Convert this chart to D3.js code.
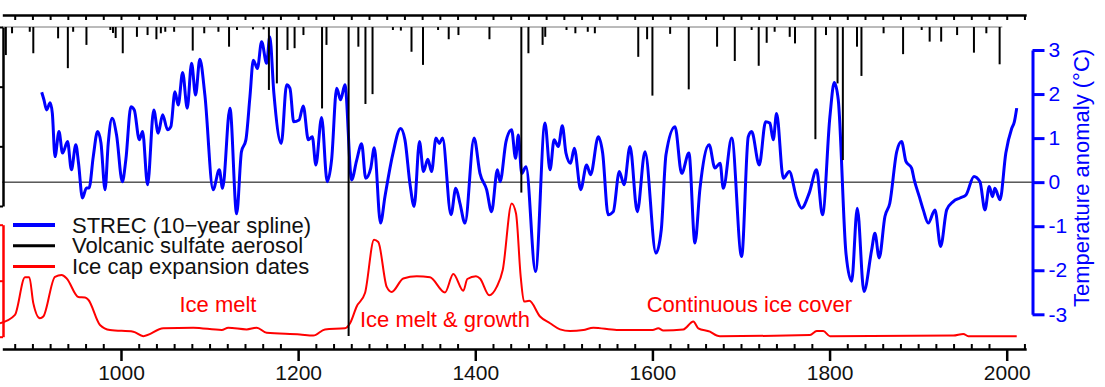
<!DOCTYPE html>
<html>
<head>
<meta charset="utf-8">
<script src="https://cdn.jsdelivr.net/npm/d3@7"></script>
<style>
  body { margin: 0; background: #fff; }
  svg { display: block; font-family: "Liberation Sans", Arial, sans-serif; }
</style>
</head>
<body>
<svg></svg>
<script>
// STREC temperature reconstruction, 10-year spline (deg C anomaly)
var strecYears = [910.5, 913, 916, 920, 922.5, 925.5, 930, 934, 939.7, 944, 949, 952, 956.5, 961, 964, 968.7, 973.6, 977.4, 982, 985.6,
  990, 995, 1001.5, 1005.5, 1011.2, 1015, 1020.7, 1024.4, 1030, 1037, 1042, 1047, 1052.6, 1056.3, 1060.9, 1064.6, 1069.6, 1074.8, 1079.7, 1084.2,
  1089, 1094.7, 1104, 1111, 1114.7, 1123, 1130.6, 1136, 1141, 1145.6, 1149.4, 1154, 1158.8, 1164.4, 1168, 1172.6, 1181, 1187, 1190.8, 1195,
  1201, 1205.8, 1211.5, 1216, 1220, 1226.5, 1232.8, 1237.8, 1243.5, 1248, 1252.8, 1260.4, 1266, 1271.7, 1276.3, 1282, 1286, 1293, 1298, 1306.7,
  1315.7, 1320.6, 1326.4, 1331, 1337, 1341.5, 1346.4, 1350.7, 1355.6, 1359.4, 1363, 1372.6, 1378, 1382.7, 1388.4, 1398.6, 1405.3, 1412.8, 1418.4, 1425,
  1428, 1434.7, 1441, 1445.5, 1448.6, 1452.4, 1457.3, 1468, 1478.7, 1484.4, 1489, 1493.7, 1498.3, 1502.4, 1507.6, 1511.8, 1519, 1525.7, 1530.2, 1538.9,
  1543.8, 1550, 1555.8, 1562.6, 1568, 1574.7, 1582.9, 1591.6, 1604, 1610, 1615.3, 1625.5, 1633, 1641.2, 1648, 1653.7, 1664, 1670.6, 1676.4, 1680,
  1689.5, 1700.7, 1708.2, 1712, 1720.6, 1727.8, 1732.6, 1736.4, 1740.2, 1747.8, 1754.5, 1762.8, 1768.4, 1777, 1785.3, 1792, 1800.4, 1805.3, 1809.8, 1818.5,
  1824.9, 1831.3, 1838.8, 1847.5, 1851.2, 1856, 1862.5, 1868, 1875.8, 1881.3, 1886.2, 1892.6, 1895.6, 1901.3, 1905.8, 1911.4, 1919, 1925.4, 1932.2, 1939.6,
  1947.2, 1954, 1963, 1969.8, 1975.4, 1980.3, 1984, 1986.6, 1992.4, 1999, 2005.6, 2008.6, 2011.3];
var strecTemps = [2.04, 1.87, 1.64, 1.80, 1.56, 0.58, 1.15, 0.66, 0.92, 0.28, 0.85, 0.44, -0.36, -0.13, -0.13, 0.58, 1.15, 0.89, -0.17, 0.88,
  1.45, 1.07, 0.01, 0.51, 1.71, 1.64, 0.96, 1.15, -0.06, 1.64, 1.11, 1.53, 1.19, 1.26, 2.05, 1.75, 2.49, 1.68, 2.70, 1.98,
  2.79, 1.98, -0.17, 0.28, -0.14, 1.68, -0.72, 0.69, 0.96, 1.94, 2.77, 2.58, 3.19, 2.70, 3.30, 2.02, 0.88, 2.21, 2.13, 1.37,
  1.41, 1.73, 0.96, 1.03, 0.39, 1.47, 0.01, 0.51, 2.13, 1.87, 2.21, 0.05, 0.49, 0.87, 0.09, 0.32, 0.78, -0.93, -0.33, 0.62,
  1.22, 0.96, -0.06, -0.55, 0.92, 0.24, 0.52, 0.24, 1.00, 0.88, 1.00, -0.74, -0.14, -0.48, -0.93, 1.00, 0.20, -0.17, -0.67, 0.28,
  0.01, 0.92, 1.19, 0.54, 1.07, 0.20, 0.35, -2.03, 1.34, 0.28, 0.96, 0.81, 1.28, 0.66, 0.43, 0.77, -0.17, 0.39, 0.17, 1.03,
  0.66, -0.74, -0.67, 0.24, -0.06, 0.81, -0.67, 0.69, -1.61, -1.08, 0.62, 1.26, 0.20, 0.66, -1.38, -0.14, 0.85, 0.32, 0.43, -0.14,
  1.00, -1.69, 1.03, 1.15, 0.39, 1.37, 1.34, 0.96, 1.56, 0.09, 0.24, -0.36, -0.59, -0.25, 0.28, -0.74, 1.49, 2.26, 1.87, -1.61,
  -2.25, -0.59, -2.48, -1.54, -1.16, -1.72, -0.78, -0.48, 0.69, 0.92, 0.47, 0.32, 0.05, -0.33, -0.63, -0.93, -0.63, -1.46, -0.63, -0.44,
  -0.36, -0.29, 0.13, 0.01, -0.63, -0.10, -0.33, -0.14, -0.40, 0.66, 1.22, 1.37, 1.68];

// volcanic sulfate aerosol events
var volcYears = [870, 877, 897, 901, 929, 940, 946, 961, 988, 991, 994, 1002, 1018, 1030, 1040, 1045, 1050, 1060, 1081, 1094,
  1110, 1122, 1131, 1149, 1161, 1167, 1176, 1188, 1196, 1206, 1227, 1232, 1257, 1268, 1276, 1284, 1307, 1316, 1328, 1341,
  1358, 1370, 1381, 1416, 1452, 1460, 1476, 1479, 1503, 1513, 1527, 1535, 1584, 1594, 1600, 1620, 1641, 1673, 1693, 1712,
  1720, 1729, 1738, 1755, 1761, 1784, 1796, 1809, 1815, 1831, 1836, 1861, 1883, 1904, 1913, 1926, 1944, 1963, 1977, 1992];
var volcSulfate = [9.4, 2.1, 1.6, 8.8, 3.8, 13.8, 1.6, 6.0, 1.0, 2.0, 3.7, 8.8, 3.3, 2.7, 4.1, 2.1, 1.6, 1.6, 7.9, 2.1,
  1.6, 6.6, 1.0, 0.8, 0.8, 21.1, 18.9, 7.7, 7.1, 2.7, 27.3, 6.0, 103.6, 6.6, 25.8, 22.5, 1.0, 1.2, 8.3, 12.7,
  1.0, 4.1, 2.7, 4.1, 55.5, 8.8, 6.0, 3.3, 1.0, 2.1, 1.6, 2.1, 10.0, 4.1, 23.0, 2.3, 20.9, 6.6, 11.4, 1.0,
  13.0, 5.3, 1.6, 3.3, 5.5, 37.6, 2.7, 18.9, 44.6, 6.6, 16.4, 2.1, 9.1, 1.0, 4.9, 4.9, 2.7, 8.6, 2.1, 12.5];

// ice cap expansion dates (probability density)
var iceYears = [863.4, 880.3, 891.6, 896.5, 901, 908.5, 912.3, 925.5, 933, 938.7, 951.8, 959.4, 963.1, 976.3, 987.6, 1013.9, 1025.2, 1047.8, 1081.6, 1113.7,
  1121.1, 1141.9, 1153.2, 1164.5, 1202.1, 1217.1, 1230.3, 1252.9, 1258.6, 1266.1, 1275.5, 1285.7, 1290.5, 1300, 1305.6, 1318.7, 1333.9, 1348.9, 1365.8, 1375.2,
  1386.5, 1391, 1400.8, 1405.3, 1415.8, 1424.2, 1431, 1441.1, 1446, 1451.3, 1455, 1461, 1473.1, 1484.4, 1495.7, 1507, 1522, 1533.3, 1559.7, 1600.3,
  1606.6, 1612.3, 1634.9, 1646.2, 1651.8, 1665, 1672.6, 1676.3, 1777.9, 1785.5, 1792.9, 1800.5, 1939.7, 1951, 1956.6, 2011.3];
var iceDensity = [0.24, 0.39, 1.06, 1.06, 0.60, 0.33, 0.36, 1.07, 1.10, 1.04, 0.71, 0.70, 0.66, 0.21, 0.12, 0.09, 0.01, 0.15, 0.16, 0.12,
  0.16, 0.13, 0.16, 0.07, 0.04, 0.02, 0.13, 0.15, 0.24, 0.54, 0.78, 1.73, 1.69, 0.89, 0.80, 1.04, 1.08, 1.06, 0.79, 1.12,
  0.82, 1.03, 1.08, 1.04, 0.74, 0.89, 1.19, 2.38, 2.20, 1.07, 0.63, 0.64, 0.36, 0.24, 0.13, 0.10, 0.12, 0.16, 0.12, 0.12,
  0.15, 0.11, 0.13, 0.27, 0.15, 0.09, 0.02, 0.01, 0.03, 0.10, 0.10, 0.01, 0.02, 0.05, 0.01, 0.01];

var yearTicks = [1000, 1200, 1400, 1600, 1800, 2000];
var tempTicks = [-3, -2, -1, 0, 1, 2, 3];
var volcTicks = [0, 20, 40, 60];
var iceTicks = [0, 1, 2];

var legendLabels = ["STREC (10\u2212year spline)", "Volcanic sulfate aerosol", "Ice cap expansion dates"];
var legendColors = ["#0000ff", "#000000", "#ff0000"];

var width = 1105;
var height = 387;

var svg = d3.select('svg').attr('width', width).attr('height', height);

var x = d3.scaleLinear().domain([866, 2022]).range([2.3, 1026.2]);
var yTemp = d3.scaleLinear().domain([-3, 3]).range([314.3, 50]);
var yVolc = d3.scaleLinear().domain([0, 60]).range([27, 206]);
var yIce = d3.scaleLinear().domain([0, 2]).range([336.7, 224.7]);

var minorYears = d3.range(880, 2021, 20).filter(function (d) { return d % 200 !== 0 });
var topYears = d3.range(880, 2021, 20);

// zero line
svg.append('line')
  .attr('x1', x.range()[0]).attr('x2', 1032.5)
  .attr('y1', yTemp(0)).attr('y2', yTemp(0))
  .attr('stroke', '#000').attr('stroke-width', 1);

// blue temperature line
var strec = strecYears.map(function (d, i) { return [d, strecTemps[i]] });
svg.append('path')
  .datum(strec)
  .attr('fill', 'none')
  .attr('stroke', '#0000ff')
  .attr('stroke-width', 3)
  .attr('stroke-linejoin', 'round')
  .attr('d', d3.line()
    .x(function (d) { return x(d[0]) })
    .y(function (d) { return yTemp(d[1]) })
    .curve(d3.curveMonotoneX));

// red ice cap line
var ice = iceYears.map(function (d, i) { return [d, iceDensity[i]] });
svg.append('path')
  .datum(ice)
  .attr('fill', 'none')
  .attr('stroke', '#ff0000')
  .attr('stroke-width', 2)
  .attr('d', d3.line()
    .x(function (d) { return x(d[0]) })
    .y(function (d) { return yIce(d[1]) })
    .curve(d3.curveMonotoneX));

// volcanic baseline + spikes
svg.append('line')
  .attr('x1', x.range()[0]).attr('x2', x(1995))
  .attr('y1', yVolc(0)).attr('y2', yVolc(0))
  .attr('stroke', '#777').attr('stroke-width', 1);

svg.append('g')
  .selectAll('line')
  .data(volcYears)
  .enter().append('line')
    .attr('x1', function (d) { return x(d) })
    .attr('x2', function (d) { return x(d) })
    .attr('y1', yVolc(0))
    .attr('y2', function (d, i) { return yVolc(volcSulfate[i]) })
    .attr('stroke', '#000')
    .attr('stroke-width', 2);

// top axis
svg.append('g')
  .attr('transform', 'translate(0,15)')
  .call(d3.axisBottom(x).tickValues(topYears).tickSize(5).tickSizeOuter(0).tickFormat(''))
  .call(function (g) {
    g.select('.domain').attr('stroke-width', 2.5);
    g.selectAll('.tick line').attr('stroke-width', 2);
  });

// bottom axis
svg.append('g')
  .attr('transform', 'translate(0,349)')
  .call(d3.axisTop(x).tickValues(minorYears).tickSize(5).tickSizeOuter(0).tickFormat(''))
  .call(function (g) {
    g.select('.domain').attr('stroke-width', 2.5);
    g.selectAll('.tick line').attr('stroke-width', 2);
  });

svg.append('g')
  .attr('transform', 'translate(0,349)')
  .call(d3.axisBottom(x).tickValues(yearTicks).tickSize(12).tickSizeOuter(0).tickPadding(4).tickFormat(d3.format('d')))
  .call(function (g) {
    g.select('.domain').remove();
    g.selectAll('.tick line').attr('stroke-width', 2.5);
    g.selectAll('text').attr('font-size', 21).attr('font-family', null).attr('fill', '#111');
  });

// left axes (volcanic, ice)
svg.append('g')
  .attr('transform', 'translate(3,0)')
  .call(d3.axisLeft(yVolc).tickValues(volcTicks).tickSize(6).tickSizeOuter(0).tickFormat(''))
  .call(function (g) {
    g.select('.domain').attr('stroke-width', 2.5);
    g.selectAll('.tick line').attr('stroke-width', 2);
  });

svg.append('g')
  .attr('transform', 'translate(3,0)')
  .call(d3.axisLeft(yIce).tickValues(iceTicks).tickSize(6).tickSizeOuter(0).tickFormat(''))
  .call(function (g) {
    g.select('.domain').attr('stroke', '#ff0000').attr('stroke-width', 2.5);
    g.selectAll('.tick line').attr('stroke', '#ff0000').attr('stroke-width', 2);
  });

// right temperature axis
svg.append('g')
  .attr('transform', 'translate(1032.5,0)')
  .call(d3.axisRight(yTemp).tickValues(tempTicks).tickSize(12).tickSizeOuter(0).tickPadding(4)
    .tickFormat(function (d) { return String(d) }))
  .call(function (g) {
    g.select('.domain').attr('stroke', '#0000ff').attr('stroke-width', 3);
    g.selectAll('.tick line').attr('stroke', '#0000ff').attr('stroke-width', 3);
    g.selectAll('text').attr('font-size', 21).attr('font-family', null).attr('fill', '#0000ff');
  });

svg.append('text')
  .attr('transform', 'translate(1081,178) rotate(-90)')
  .attr('text-anchor', 'middle')
  .attr('dy', '0.35em')
  .attr('font-size', 22)
  .attr('fill', '#0000ff')
  .text('Temperature anomaly (\u00b0C)');

// annotations
var notes = svg.append('g').attr('fill', '#ff0000').attr('font-size', 22);
notes.append('text').attr('x', x(1109.5)).attr('y', yIce(0.45)).attr('text-anchor', 'middle').text('Ice melt');
notes.append('text').attr('x', x(1269.8)).attr('y', yIce(0.18)).text('Ice melt & growth');
notes.append('text').attr('x', x(1593.5)).attr('y', yIce(0.44)).text('Continuous ice cover');

// legend
var legend = svg.append('g').attr('transform', 'translate(13,225)');
var items = legend.selectAll('g')
  .data(legendLabels)
  .enter().append('g')
    .attr('transform', function (d, i) { return 'translate(0,' + (i * 20.8) + ')' });
items.append('line')
  .attr('x1', 0).attr('x2', 42)
  .attr('stroke', function (d, i) { return legendColors[i] })
  .attr('stroke-width', function (d, i) { return i === 0 ? 4 : 3 });
items.append('text')
  .attr('x', 59).attr('y', 7.5)
  .attr('font-size', 22)
  .attr('fill', '#111')
  .text(function (d) { return d });
</script>
</body>
</html>
